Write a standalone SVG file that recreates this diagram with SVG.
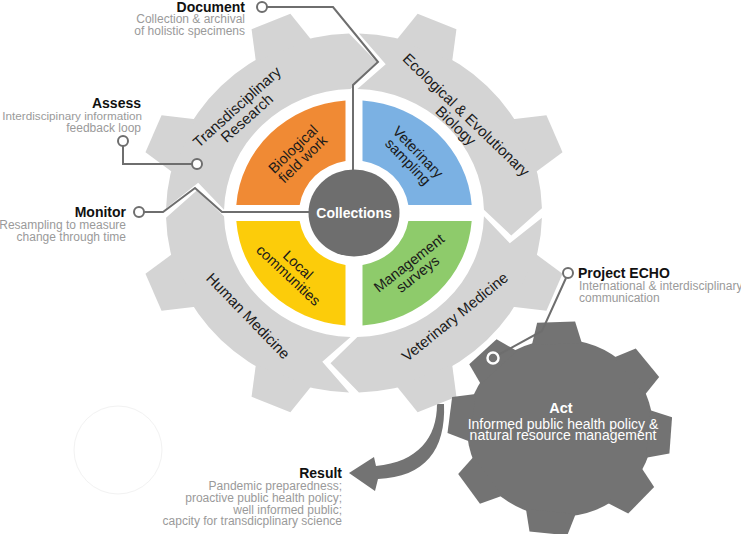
<svg xmlns="http://www.w3.org/2000/svg" xmlns:xlink="http://www.w3.org/1999/xlink" width="741" height="534" viewBox="0 0 741 534">
<style>
.f{font-family:"Liberation Sans",Arial,Helvetica,sans-serif}
.lbl{font-family:"Liberation Sans",Arial,sans-serif;font-weight:bold;font-size:14px;fill:#111}
.dsc{font-family:"Liberation Sans",Arial,sans-serif;font-size:12px;fill:#9a9a9a}
.seg{fill:#d4d4d4}
.gt{font-family:"Liberation Sans",Arial,sans-serif;font-size:15px;fill:#1a1a1a;text-anchor:middle}
.qt{font-family:"Liberation Sans",Arial,sans-serif;font-size:14.5px;fill:#1a1a1a;text-anchor:middle}
.ln{fill:none;stroke:#6e6e6e;stroke-width:2;stroke-linejoin:miter}
.dot{fill:#fff;stroke:#6e6e6e;stroke-width:2}
.dk{fill:#737373}
</style>
<defs>
<path id="segp" d="M 4.92 -187.94 A 188 188 0 0 1 187.94 -4.92 L 157.25 23.50 L 129.96 -3.40 A 130 130 0 0 0 3.40 -129.96 L 31.70 -155.81 Z"/>
<polygon id="tooth" points="-30,-184 -21,-217 21,-217 30,-184"/>
<path id="quad" d="M -117.69 -8.5 A 118 118 0 0 1 -8.5 -117.69 L -8.5 -54.34 A 55 55 0 0 0 -54.34 -8.5 Z"/>
<polygon id="dtooth" points="-25,-88 -19,-111 19,-111 25,-88"/>
</defs>
<rect width="741" height="534" fill="#fff"/>
<circle cx="118" cy="450" r="44" fill="none" stroke="#f2f2f2" stroke-width="1"/>

<g id="result-arrow">
<path class="dk" d="M 437 404 C 437 438 418 462 376 466 L 374 457 L 349 473 L 375 491 L 378 479 C 425 477 446 450 444 404 Z"/>
</g>

<g id="ecological-evolutionary-biology">
<g class="seg" transform="translate(354 213) scale(1 0.955)">
<use xlink:href="#segp"/>
<use xlink:href="#tooth" transform="rotate(22.5)"/>
<use xlink:href="#tooth" transform="rotate(67.5)"/>
</g>
<text class="gt" transform="translate(466 115) rotate(44)"><tspan x="0" y="5">Ecological &amp; Evolutionary</tspan><tspan x="0" y="20">Biology</tspan></text>
</g>
<g id="veterinary-medicine">
<g class="seg" transform="translate(354 213) scale(1 0.955)">
<use xlink:href="#segp" transform="rotate(90)"/>
<use xlink:href="#tooth" transform="rotate(112.5)"/>
<use xlink:href="#tooth" transform="rotate(157.5)"/>
</g>
<text class="gt" transform="translate(455 317) rotate(-39)"><tspan x="0" y="5">Veterinary Medicine</tspan></text>
</g>
<g id="human-medicine">
<g class="seg" transform="translate(354 213) scale(1 0.955)">
<use xlink:href="#segp" transform="rotate(180)"/>
<use xlink:href="#tooth" transform="rotate(202.5)"/>
<use xlink:href="#tooth" transform="rotate(247.5)"/>
</g>
<text class="gt" transform="translate(248 316) rotate(46)"><tspan x="0" y="5">Human Medicine</tspan></text>
</g>
<g id="transdisciplinary-research">
<g class="seg" transform="translate(354 213) scale(1 0.955)">
<use xlink:href="#segp" transform="rotate(270)"/>
<use xlink:href="#tooth" transform="rotate(292.5)"/>
<use xlink:href="#tooth" transform="rotate(337.5)"/>
</g>
<text class="gt" transform="translate(237 107) rotate(-42)"><tspan x="0" y="5">Transdisciplinary</tspan><tspan x="0" y="20">Research</tspan></text>
</g>

<g id="biological-field-work">
<use xlink:href="#quad" fill="#f08a34" transform="translate(354 213) scale(1 0.955)"/>
<text class="qt" transform="translate(293 149) rotate(-44)"><tspan x="0" y="5">Biological</tspan><tspan x="0" y="19">field work</tspan></text>
</g>
<g id="veterinary-sampling">
<use xlink:href="#quad" fill="#7bb1e3" transform="translate(354 213) scale(1 0.955) rotate(90)"/>
<text class="qt" transform="translate(418 152) rotate(46)"><tspan x="0" y="5">Veterinary</tspan><tspan x="0" y="19">sampling</tspan></text>
</g>
<g id="management-surveys">
<use xlink:href="#quad" fill="#8ecb6b" transform="translate(354 213) scale(1 0.955) rotate(180)"/>
<text class="qt" transform="translate(409 263) rotate(-38)"><tspan x="0" y="5">Management</tspan><tspan x="0" y="19">surveys</tspan></text>
</g>
<g id="local-communities">
<use xlink:href="#quad" fill="#fccc0a" transform="translate(354 213) scale(1 0.955) rotate(270)"/>
<text class="qt" transform="translate(298 265) rotate(43)"><tspan x="0" y="5">Local</tspan><tspan x="0" y="19">communities</tspan></text>
</g>

<g id="act-gear">
<g class="dk" transform="translate(560 428) scale(1 0.955)">
<circle cx="0" cy="0" r="93"/>
<use xlink:href="#dtooth" transform="rotate(358)"/>
<use xlink:href="#dtooth" transform="rotate(52)"/>
<use xlink:href="#dtooth" transform="rotate(94)"/>
<use xlink:href="#dtooth" transform="rotate(133)"/>
<use xlink:href="#dtooth" transform="rotate(186)"/>
<use xlink:href="#dtooth" transform="rotate(235)"/>
<use xlink:href="#dtooth" transform="rotate(277)"/>
<use xlink:href="#dtooth" transform="rotate(316)"/>
</g>
<text class="f" x="561" y="413" text-anchor="middle" font-weight="bold" font-size="14.5" fill="#fff">Act</text>
<text class="f" text-anchor="middle" font-size="14" fill="#fff"><tspan x="563" y="428.5">Informed public health policy &amp;</tspan><tspan x="563" y="440">natural resource management</tspan></text>
</g>

<g id="connectors">
<polyline class="ln" points="267,7 333,7 378,62 353,85 353,170"/>
<circle class="dot" cx="262" cy="7" r="5"/>
<polyline class="ln" points="123,146 123,164 192,164"/>
<circle class="dot" cx="123" cy="141" r="5"/>
<circle class="dot" cx="197" cy="164" r="5"/>
<polyline class="ln" points="144,212 163,212 195,188 222,212 310,212"/>
<circle class="dot" cx="139" cy="212" r="5"/>
<polyline class="ln" points="566,278 542,331 498,355"/>
<circle class="dot" cx="568" cy="273" r="5"/>
<circle cx="493" cy="358" r="5.5" fill="#737373" stroke="#fff" stroke-width="2.5"/>
</g>

<g id="collections">
<ellipse cx="354" cy="213" rx="45.5" ry="43.5" fill="#6e6e6e"/>
<text class="f" x="354" y="218" text-anchor="middle" font-weight="bold" font-size="14" fill="#fff">Collections</text>
</g>

<g id="document">
<text class="lbl" x="245" y="12" text-anchor="end">Document</text>
<text class="dsc" text-anchor="end"><tspan x="245" y="23">Collection &amp; archival</tspan><tspan x="245" y="35">of holistic specimens</tspan></text>
</g>
<g id="assess">
<text class="lbl" x="141" y="107.5" text-anchor="end">Assess</text>
<text class="dsc" text-anchor="end"><tspan x="142" y="119.5" font-size="11.7">Interdiscipinary information</tspan><tspan x="141" y="131.5">feedback loop</tspan></text>
</g>
<g id="monitor">
<text class="lbl" x="126" y="217" text-anchor="end">Monitor</text>
<text class="dsc" text-anchor="end"><tspan x="126" y="229">Resampling to measure</tspan><tspan x="126" y="241">change through time</tspan></text>
</g>
<g id="project-echo">
<text class="lbl" x="578" y="278">Project ECHO</text>
<text class="dsc"><tspan x="579" y="290">International &amp; interdisciplinary</tspan><tspan x="579" y="302">communication</tspan></text>
</g>
<g id="result">
<text class="lbl" x="342" y="478" text-anchor="end">Result</text>
<text class="dsc" text-anchor="end"><tspan x="342" y="490">Pandemic preparedness;</tspan><tspan x="342" y="502">proactive public health policy;</tspan><tspan x="342" y="513.5">well informed public;</tspan><tspan x="342" y="525">capcity for transdicplinary science</tspan></text>
</g>
</svg>
